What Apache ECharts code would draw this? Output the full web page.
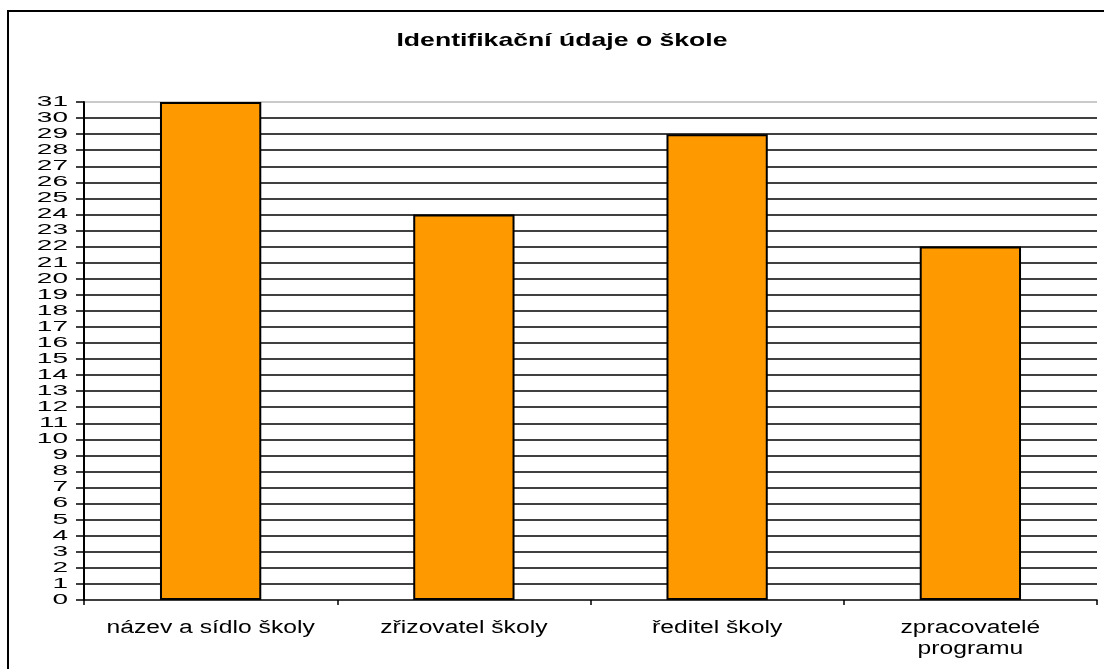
<!DOCTYPE html>
<html>
<head>
<meta charset="utf-8">
<script src="https://cdn.jsdelivr.net/npm/echarts@6/dist/echarts.min.js"></script>
<style>
  html, body { margin: 0; padding: 0; background: #fff; }
  #chart { width: 1104px; height: 669px; }
</style>
</head>
<body>
<div id="chart"></div>
<script>
// Survey answers: how many school programmes state each identification item
const chartTitle = 'Identifikační údaje o škole';
const categories = ['název a sídlo školy', 'zřizovatel školy', 'ředitel školy', 'zpracovatelé\nprogramu'];
const counts = [31, 24, 29, 22];
const yMin = 0;
const yMax = 31;
const yStep = 1;
const yTickValues = [];
for (let v = yMin; v <= yMax; v += yStep) yTickValues.push(v);

const FONT = '"Liberation Sans", Arial, sans-serif';

const chart = echarts.init(document.getElementById('chart'), null, { renderer: 'canvas' });

chart.setOption({
  animation: false,
  backgroundColor: '#ffffff',
  grid: { left: 84, right: 7, top: 102, bottom: 69, containLabel: false },
  xAxis: {
    type: 'category',
    data: categories,
    boundaryGap: true,
    axisLine: { show: true, lineStyle: { color: '#000', width: 1.5 } },
    axisTick: { show: true, alignWithLabel: false, length: 5, lineStyle: { color: '#000', width: 1.5 } },
    axisLabel: { show: false },
    splitLine: { show: false }
  },
  yAxis: {
    type: 'value',
    min: yMin,
    max: yMax,
    interval: yStep,
    axisLine: { show: true, lineStyle: { color: '#000', width: 2 } },
    axisTick: { show: true, length: 8, lineStyle: { color: '#000', width: 1.5 } },
    axisLabel: { show: false },
    splitLine: {
      show: true,
      showMinLine: false,
      showMaxLine: false,
      lineStyle: { color: '#000', width: 1.5 }
    }
  },
  series: [{
    type: 'bar',
    data: counts,
    barWidth: '40%',
    itemStyle: { color: '#ff9900', borderColor: '#000', borderWidth: 2 },
    z: 3
  }]
});

// Text is drawn horizontally widened, so it is placed as graphic text
// anchored on positions taken from the chart's own axes.
const graphics = [];

// outer frame
graphics.push({
  type: 'rect',
  shape: { x: 8, y: 11, width: 1200, height: 700 },
  style: { fill: 'none', stroke: '#000', lineWidth: 2 },
  silent: true
});

// light top edge of the plot area
const yTop = chart.convertToPixel({ yAxisIndex: 0 }, yMax);
const xLeft = chart.convertToPixel({ xAxisIndex: 0 }, 0) - (chart.convertToPixel({ xAxisIndex: 0 }, 1) - chart.convertToPixel({ xAxisIndex: 0 }, 0)) / 2;
graphics.push({
  type: 'line',
  shape: { x1: xLeft + 1, y1: yTop, x2: 1097, y2: yTop },
  style: { stroke: '#b8b8b8', lineWidth: 1.5 },
  z: 1,
  silent: true
});

// title
graphics.push({
  type: 'text',
  x: 562, y: 41,
  scaleX: 1.4,
  style: {
    text: chartTitle,
    x: 0, y: 0,
    align: 'center', verticalAlign: 'middle',
    font: 'bold 19px ' + FONT,
    fill: '#000'
  },
  silent: true
});

// value axis labels
yTickValues.forEach(function (v) {
  graphics.push({
    type: 'text',
    x: 68, y: chart.convertToPixel({ yAxisIndex: 0 }, v),
    scaleX: 2,
    style: {
      text: String(v),
      x: 0, y: 0,
      align: 'right', verticalAlign: 'middle',
      font: '14px ' + FONT,
      fill: '#000'
    },
    silent: true
  });
});

// category axis labels
const yBase = chart.convertToPixel({ yAxisIndex: 0 }, yMin);
categories.forEach(function (c, i) {
  graphics.push({
    type: 'text',
    x: chart.convertToPixel({ xAxisIndex: 0 }, i), y: yBase + 18,
    scaleX: 1.37,
    style: {
      text: c,
      x: 0, y: 0,
      align: 'center', verticalAlign: 'top',
      font: '18px ' + FONT,
      lineHeight: 21,
      fill: '#000'
    },
    silent: true
  });
});

chart.setOption({ graphic: graphics });
</script>
</body>
</html>
